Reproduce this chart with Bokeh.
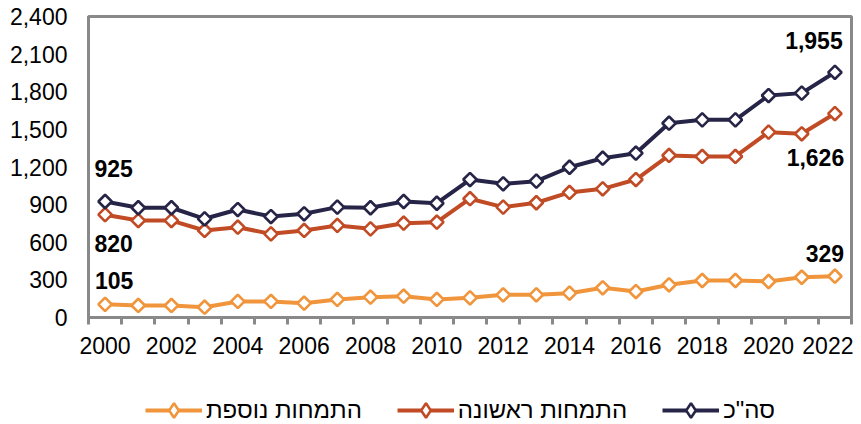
import math
from bokeh.plotting import figure
from bokeh.layouts import column
from bokeh.models import Range1d, FixedTicker, NumeralTickFormatter, Legend, LegendItem, ColumnDataSource
from bokeh.core.properties import value
from bokeh.embed import file_html
from bokeh.resources import INLINE

years = list(range(2000, 2023))
total = [925, 875, 875, 787, 861, 805, 827, 880, 875, 925, 911, 1100, 1066, 1087, 1198,
         1270, 1310, 1549, 1576, 1576, 1770, 1789, 1955]
first = [820, 773, 773, 694, 720, 667, 694, 734, 707, 752, 760, 947, 880, 915, 997,
         1026, 1100, 1292, 1284, 1284, 1478, 1465, 1626]
additional = [105, 96, 96, 82, 128, 128, 114, 144, 162, 170, 144, 157, 181, 181, 194,
              237, 207, 261, 295, 295, 287, 321, 329]
names = ["התמחות נוספת", "התמחות ראשונה", 'סה"כ']
y_ticks = [0, 300, 600, 900, 1200, 1500, 1800, 2100, 2400]
x_ticks = years[::2]

FONT = "Liberation Sans"
GRAY = "#898989"
colors = ["#F0953C", "#C04B25", "#262548"]
LINE_W = 4
MARK_SIZE = 9.5
MARK_W = 2.6
ANG = math.pi / 4

p = figure(width=853, height=370, output_backend="svg", toolbar_location=None,
           x_range=Range1d(years[0] - 0.5, years[-1] + 0.5), y_range=Range1d(y_ticks[0], y_ticks[-1]),
           min_border_left=88, min_border_right=2, min_border_top=16, min_border_bottom=53)
p.xgrid.visible = False
p.ygrid.visible = False
p.outline_line_color = GRAY
p.outline_line_width = 3

p.xaxis.ticker = FixedTicker(ticks=x_ticks, minor_ticks=[y - 0.5 for y in years] + [years[-1] + 0.5])
p.xaxis.major_tick_out = 0
p.xaxis.major_tick_in = 0
p.xaxis.minor_tick_out = 7
p.xaxis.minor_tick_in = 0
p.xaxis.minor_tick_line_color = GRAY
p.xaxis.minor_tick_line_width = 3
p.xaxis.axis_line_color = GRAY
p.xaxis.axis_line_width = 3
p.xaxis.major_label_standoff = 12

p.yaxis.ticker = FixedTicker(ticks=y_ticks)
p.yaxis.formatter = NumeralTickFormatter(format="0,0")
p.yaxis.major_tick_out = 0
p.yaxis.major_tick_in = 0
p.yaxis.minor_tick_line_color = None
p.yaxis.axis_line_color = GRAY
p.yaxis.axis_line_width = 3
p.yaxis.major_label_standoff = 21

for ax in (p.xaxis, p.yaxis):
    ax.major_label_text_font = FONT
    ax.major_label_text_font_size = "23px"
    ax.major_label_text_color = "black"

for series, col in zip([additional, first, total], colors):
    p.line(years, series, line_color=col, line_width=LINE_W)
    p.scatter(years, series, marker="square", angle=ANG, size=MARK_SIZE, fill_color="white",
              line_color=col, line_width=MARK_W)

lab = ColumnDataSource(dict(
    x=[years[0]] * 3 + [years[-1]] * 3,
    y=[total[0], first[0], additional[0], total[-1], first[-1], additional[-1]],
    text=["{:,}".format(v) for v in [total[0], first[0], additional[0], total[-1], first[-1], additional[-1]]],
    dx=[8.5, 8.5, 9, -21, -19.5, -10],
    dy=[-32.5, 29, -24, -32, 43.5, -23],
))
p.text(x="x", y="y", text="text", x_offset="dx", y_offset="dy", source=lab,
       text_font=value(FONT), text_font_size="23px", text_font_style="bold",
       text_align="center", text_baseline="middle", text_color="black")

# legend strip below the chart
lg = figure(width=853, height=54, output_backend="svg", toolbar_location=None,
            x_range=Range1d(0, 1), y_range=Range1d(0, 1),
            min_border_left=0, min_border_right=0, min_border_top=0, min_border_bottom=0)
lg.axis.visible = False
lg.grid.visible = False
lg.outline_line_color = None
nan = float("nan")
items = []
for col, name in zip(colors, names):
    r1 = lg.line([nan], [nan], line_color=col, line_width=LINE_W)
    r2 = lg.scatter([nan], [nan], marker="diamond", size=MARK_SIZE, fill_color="white",
                    line_color=col, line_width=MARK_W)
    items.append(LegendItem(label=name, renderers=[r1, r2]))
legend = Legend(items=items, orientation="horizontal", location=(57, -4),
                label_text_font=FONT, label_text_font_size="24px", label_text_color="black",
                glyph_width=57, glyph_height=36, label_standoff=4, spacing=35, padding=0,
                border_line_color=None, background_fill_alpha=0, margin=0)
lg.add_layout(legend, "center")

page = column(p, lg, spacing=0)
open("out.html", "w").write(file_html(page, INLINE))
